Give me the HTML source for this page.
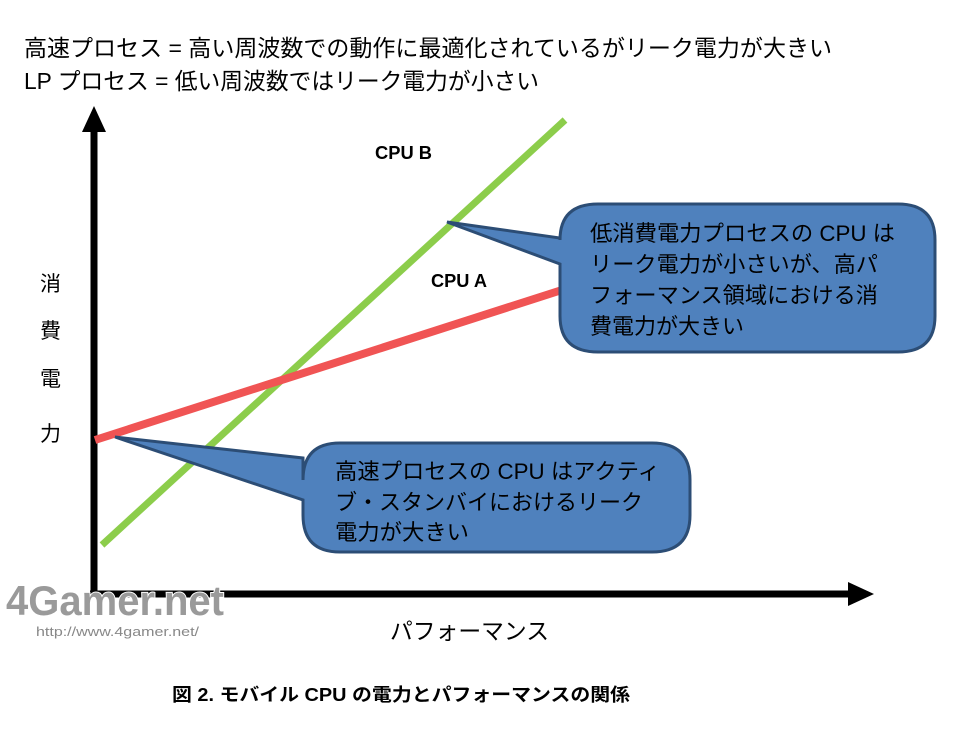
<!DOCTYPE html>
<html><head><meta charset="utf-8"><style>
html,body{margin:0;padding:0;background:#fff;}
svg text{font-family:"Liberation Sans","Noto Sans CJK JP",sans-serif;}
</style></head><body>
<svg width="960" height="750" viewBox="0 0 960 750" xmlns="http://www.w3.org/2000/svg">
<text x="24" y="56" font-size="23" fill="#000" textLength="808" lengthAdjust="spacingAndGlyphs">高速プロセス = 高い周波数での動作に最適化されているがリーク電力が大きい</text>
<text x="24" y="89" font-size="23" fill="#000" textLength="515" lengthAdjust="spacingAndGlyphs">LP プロセス = 低い周波数ではリーク電力が小さい</text>

<!-- axes -->
<line x1="94" y1="130" x2="94" y2="596" stroke="#000" stroke-width="7"/>
<polygon points="94,106 82,132 106,132" fill="#000"/>
<line x1="90" y1="594" x2="850" y2="594" stroke="#000" stroke-width="7"/>
<polygon points="874,594 848,582 848,606" fill="#000"/>

<!-- lines -->
<line x1="102" y1="545" x2="565" y2="120" stroke="#8ccd4b" stroke-width="7"/>
<line x1="95" y1="440" x2="565" y2="289" stroke="#f05454" stroke-width="8"/>

<text x="375" y="159" font-size="18" font-weight="bold" textLength="57" lengthAdjust="spacingAndGlyphs">CPU B</text>
<text x="431" y="287" font-size="18" font-weight="bold" textLength="56" lengthAdjust="spacingAndGlyphs">CPU A</text>

<g font-size="21" fill="#000">
<text x="40" y="291">消</text>
<text x="40" y="338">費</text>
<text x="40" y="386">電</text>
<text x="40" y="441">力</text>
</g>

<!-- bubble 1 -->
<path d="M598,204 H898 Q935,204 935,240 V316 Q935,352 898,352 H598 Q560,352 560,316 V264 L447,222 L560,238 V240 Q560,204 598,204 Z" fill="#4f81bd" stroke="#2c4d75" stroke-width="3"/>
<g font-size="22" fill="#000">
<text x="590" y="241" textLength="305" lengthAdjust="spacingAndGlyphs">低消費電力プロセスの CPU は</text>
<text x="590" y="272" textLength="288" lengthAdjust="spacingAndGlyphs">リーク電力が小さいが、高パ</text>
<text x="590" y="303" textLength="288" lengthAdjust="spacingAndGlyphs">フォーマンス領域における消</text>
<text x="590" y="334" textLength="154" lengthAdjust="spacingAndGlyphs">費電力が大きい</text>
</g>

<!-- bubble 2 -->
<path d="M340,443 H652 Q690,443 690,480 V515 Q690,552 652,552 H340 Q303,552 303,515 V500 L115,437 L303,458 V480 Q303,443 340,443 Z" fill="#4f81bd" stroke="#2c4d75" stroke-width="3"/>
<g font-size="22" fill="#000">
<text x="335" y="479" textLength="325" lengthAdjust="spacingAndGlyphs">高速プロセスの CPU はアクティ</text>
<text x="335" y="510" textLength="308" lengthAdjust="spacingAndGlyphs">ブ・スタンバイにおけるリーク</text>
<text x="335" y="540" textLength="134" lengthAdjust="spacingAndGlyphs">電力が大きい</text>
</g>

<!-- watermark -->
<text x="6" y="615" font-size="42" font-weight="bold" fill="#9a9a9a" stroke="#fff" stroke-width="2" paint-order="stroke" textLength="218" lengthAdjust="spacingAndGlyphs">4Gamer.net</text>
<text x="36" y="636" font-size="13" fill="#888" textLength="163" lengthAdjust="spacingAndGlyphs">http://www.4gamer.net/</text>

<text x="390" y="639" font-size="23" fill="#000" textLength="159" lengthAdjust="spacingAndGlyphs">パフォーマンス</text>

<text x="172" y="701" font-size="18" font-weight="bold" fill="#000" textLength="458" lengthAdjust="spacingAndGlyphs">図 2. モバイル CPU の電力とパフォーマンスの関係</text>
</svg>
</body></html>
